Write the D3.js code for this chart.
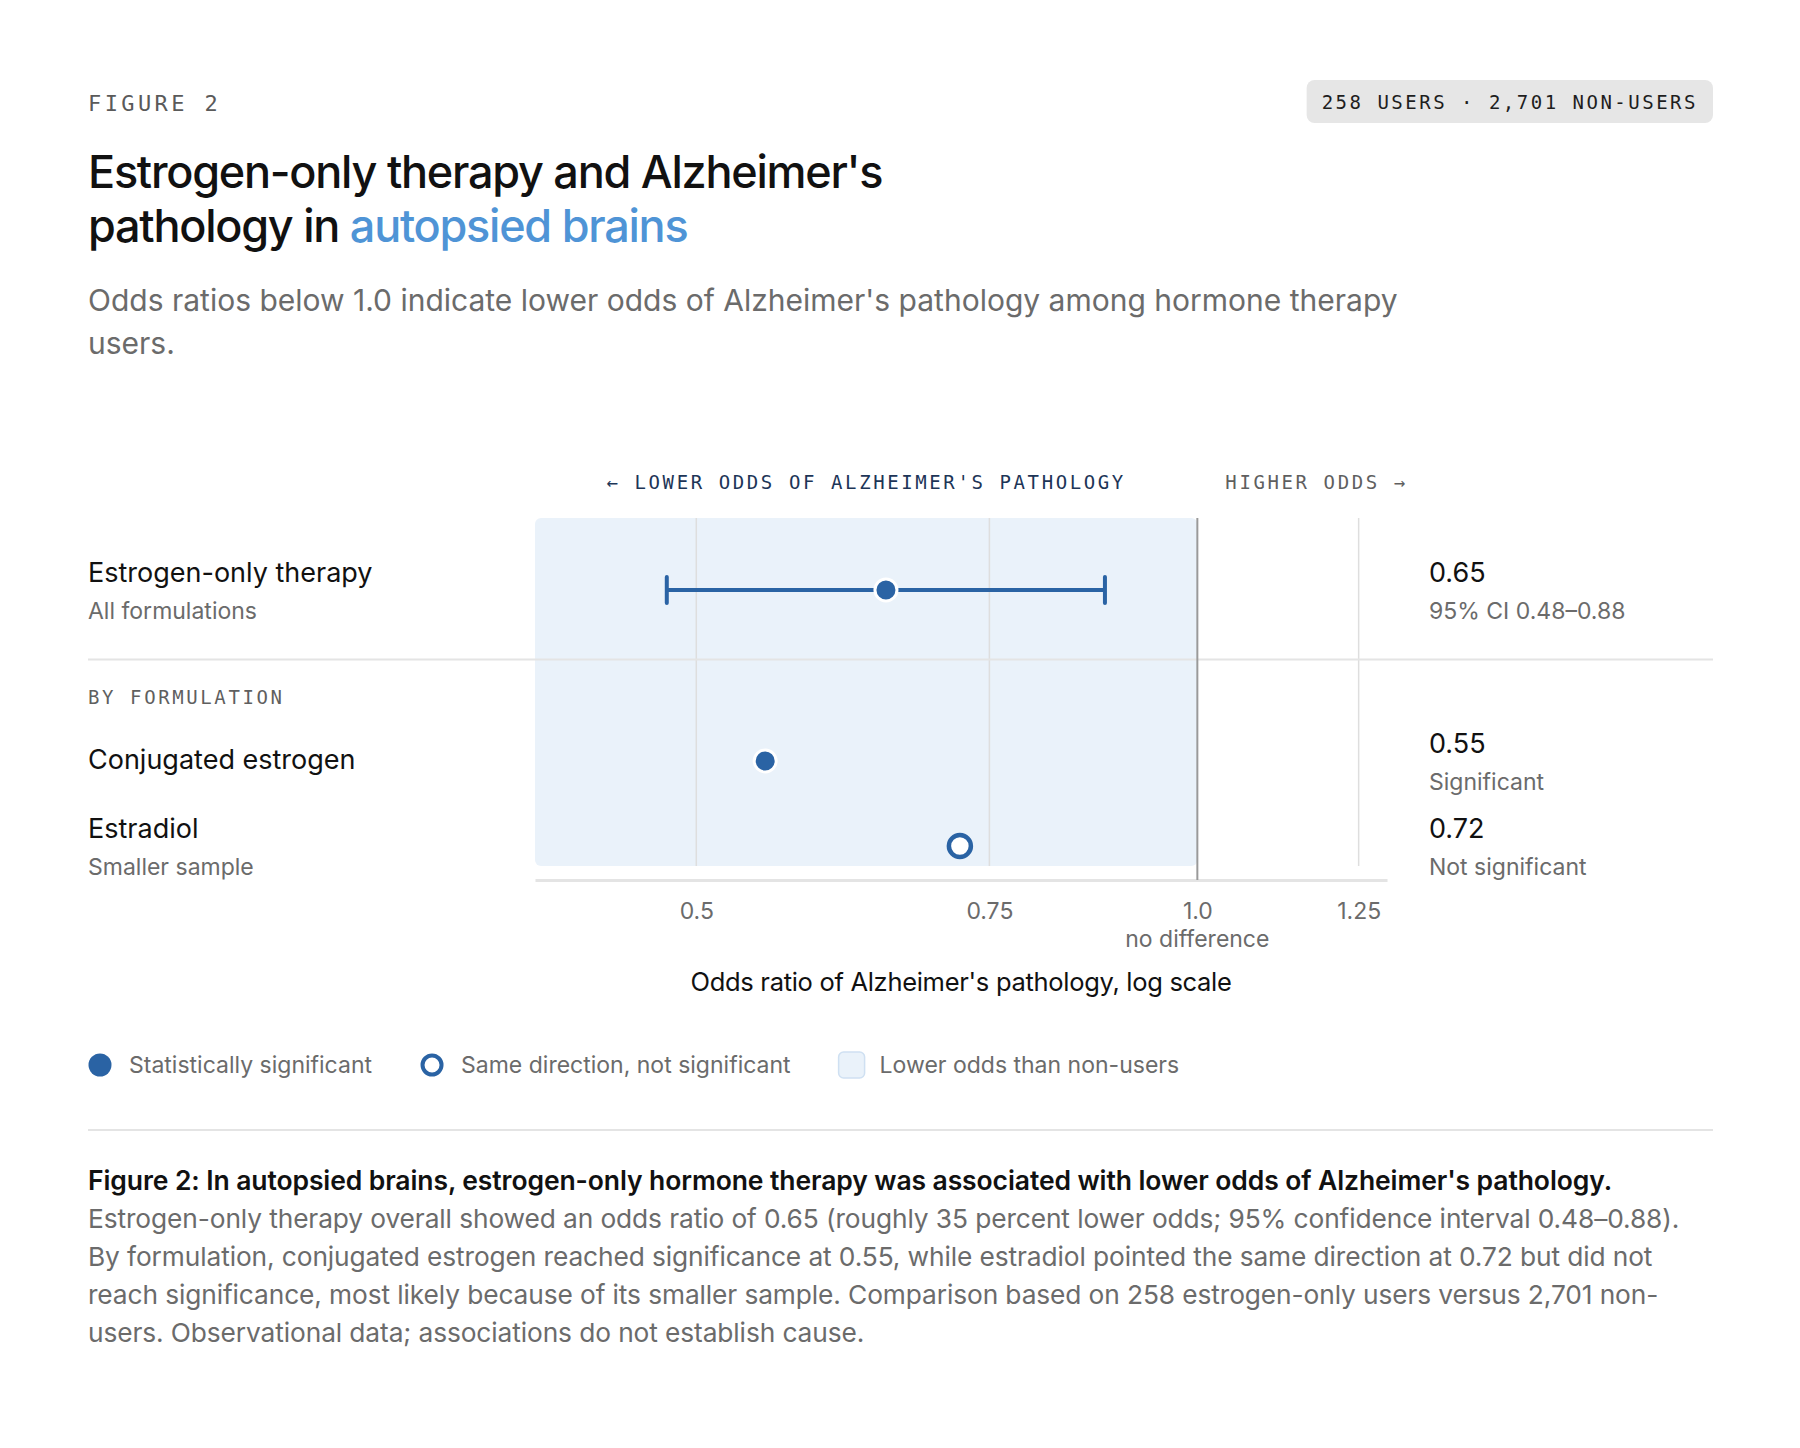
<!DOCTYPE html>
<html>
<head>
<meta charset="utf-8">
<script src="https://cdn.jsdelivr.net/npm/d3@7/dist/d3.min.js"></script>
<style>
  html, body { margin: 0; padding: 0; background: #fff; }
  svg { display: block; }
</style>
</head>
<body>
<div id="chart"></div>
<script>
// Forest plot: estrogen-only therapy and odds of Alzheimer's pathology

const rowLabels = ['Estrogen-only therapy', 'Conjugated estrogen', 'Estradiol'];
const rowSublabels = ['All formulations', '', 'Smaller sample'];
const oddsRatios = [0.65, 0.55, 0.72];
const ciLow = [0.48, null, null];
const ciHigh = [0.88, null, null];
const significant = [true, true, false];
const valueNotes = ['95% CI 0.48–0.88', 'Significant', 'Not significant'];

const xDomain = [0.4, 1.3];
const tickValues = [0.5, 0.75, 1.0, 1.25];
const tickLabels = ['0.5', '0.75', '1.0', '1.25'];

const legendLabels = ['Statistically significant', 'Same direction, not significant', 'Lower odds than non-users'];

const captionBold = "Figure 2: In autopsied brains, estrogen-only hormone therapy was associated with lower odds of Alzheimer's pathology.";
const captionLines = [
  'Estrogen-only therapy overall showed an odds ratio of 0.65 (roughly 35 percent lower odds; 95% confidence interval 0.48–0.88).',
  'By formulation, conjugated estrogen reached significance at 0.55, while estradiol pointed the same direction at 0.72 but did not',
  'reach significance, most likely because of its smaller sample. Comparison based on 258 estrogen-only users versus 2,701 non-',
  'users. Observational data; associations do not establish cause.'
];

const W = 1800, H = 1448;
const LEFT = 88, RIGHT = 1713;
const PLOT = { x0: 535, x1: 1387, top: 518, bottom: 866, axisY: 880 };
const ROW_Y = [590, 761, 846];
const VALUE_X = 1429;

const SANS = 'Inter, "Noto Sans", sans-serif';
const MONO = '"DejaVu Sans Mono", "Liberation Mono", monospace';
const BLUE = '#2a63a4';
const SHADE = '#eaf2fa';
const GREY_TEXT = '#6b6b6b';
const RULE = '#e4e4e4';

const svg = d3.select('#chart').append('svg')
  .attr('width', W)
  .attr('height', H);

// ---------- header ----------
svg.append('text')
  .attr('x', LEFT).attr('y', 111)
  .attr('font-family', MONO).attr('font-size', 22)
  .attr('letter-spacing', '3.4px')
  .attr('fill', '#5a5a5a')
  .text('FIGURE 2');

const badgeText = svg.append('text')
  .attr('y', 109)
  .attr('font-family', MONO).attr('font-size', 19)
  .attr('letter-spacing', '2.5px')
  .attr('fill', '#1e1e1e')
  .text('258 USERS · 2,701 NON-USERS');
const badgeW = badgeText.node().getComputedTextLength() + 30;
svg.insert('rect', 'text:last-of-type')
  .attr('x', RIGHT - badgeW).attr('y', 80)
  .attr('width', badgeW).attr('height', 43)
  .attr('rx', 8)
  .attr('fill', '#e6e6e6');
badgeText.attr('x', RIGHT - badgeW + 15);
badgeText.raise();

const title = svg.append('text')
  .attr('font-family', SANS).attr('font-size', 45)
  .attr('font-weight', 500)
  .attr('letter-spacing', '-1.25px')
  .attr('fill', '#111');
title.append('tspan').attr('x', LEFT).attr('y', 188).text("Estrogen-only therapy and Alzheimer's");
const t2 = title.append('tspan').attr('x', LEFT).attr('y', 242);
t2.append('tspan').text('pathology in ');
t2.append('tspan').attr('fill', '#4f94d6').text('autopsied brains');

const sub = svg.append('text')
  .attr('font-family', SANS).attr('font-size', 30)
  .attr('fill', GREY_TEXT);
sub.append('tspan').attr('x', LEFT).attr('y', 311)
  .text("Odds ratios below 1.0 indicate lower odds of Alzheimer's pathology among hormone therapy");
sub.append('tspan').attr('x', LEFT).attr('y', 354).text('users.');

// ---------- scale ----------
const x = d3.scaleLog().domain(xDomain).range([PLOT.x0, PLOT.x1]);

// direction labels
svg.append('text')
  .attr('x', (x(xDomain[0]) + x(1)) / 2).attr('y', 489)
  .attr('text-anchor', 'middle')
  .attr('font-family', MONO).attr('font-size', 19)
  .attr('letter-spacing', '2.6px')
  .attr('fill', '#1d3557')
  .text("← LOWER ODDS OF ALZHEIMER'S PATHOLOGY");
svg.append('text')
  .attr('x', x(1) + 28).attr('y', 489)
  .attr('font-family', MONO).attr('font-size', 19)
  .attr('letter-spacing', '2.6px')
  .attr('fill', '#5f5f5f')
  .text('HIGHER ODDS →');

// shaded "lower odds" region
svg.append('rect')
  .attr('x', x(xDomain[0])).attr('y', PLOT.top)
  .attr('width', x(1) - x(xDomain[0]))
  .attr('height', PLOT.bottom - PLOT.top)
  .attr('rx', 6)
  .attr('fill', SHADE);

// gridlines
svg.append('g').selectAll('line')
  .data(tickValues.filter(v => v !== 1))
  .join('line')
  .attr('x1', d => x(d)).attr('x2', d => x(d))
  .attr('y1', PLOT.top).attr('y2', PLOT.bottom)
  .attr('stroke', '#dedede').attr('stroke-width', 1.5);

// section rule
svg.append('line')
  .attr('x1', LEFT).attr('x2', RIGHT)
  .attr('y1', 659.5).attr('y2', 659.5)
  .attr('stroke', RULE).attr('stroke-width', 2);

// axis
const axis = d3.axisBottom(x)
  .tickValues(tickValues)
  .tickFormat((d, i) => tickLabels[i])
  .tickSize(0)
  .tickSizeOuter(0)
  .tickPadding(23);
const axisG = svg.append('g')
  .attr('transform', `translate(0, ${PLOT.axisY})`)
  .call(axis);
axisG.select('.domain').attr('stroke', RULE).attr('stroke-width', 3);
axisG.selectAll('.tick text')
  .attr('font-family', SANS).attr('font-size', 23)
  .attr('fill', GREY_TEXT);

// reference line at 1.0
svg.append('line')
  .attr('x1', x(1)).attr('x2', x(1))
  .attr('y1', PLOT.top).attr('y2', PLOT.axisY)
  .attr('stroke', '#9a9a9a').attr('stroke-width', 2);

svg.append('text')
  .attr('x', x(1)).attr('y', 947)
  .attr('text-anchor', 'middle')
  .attr('font-family', SANS).attr('font-size', 23)
  .attr('fill', GREY_TEXT)
  .text('no difference');

svg.append('text')
  .attr('x', (PLOT.x0 + PLOT.x1) / 2).attr('y', 991)
  .attr('text-anchor', 'middle')
  .attr('font-family', SANS).attr('font-size', 25.5)
  .attr('letter-spacing', '-0.3px')
  .attr('fill', '#111')
  .text("Odds ratio of Alzheimer's pathology, log scale");

// ---------- row labels ----------
svg.append('text')
  .attr('x', LEFT).attr('y', 704)
  .attr('font-family', MONO).attr('font-size', 19)
  .attr('letter-spacing', '2.6px')
  .attr('fill', '#5f5f5f')
  .text('BY FORMULATION');

rowLabels.forEach((label, i) => {
  const cy = ROW_Y[i];
  const hasSub = rowSublabels[i] !== '';
  svg.append('text')
    .attr('x', LEFT).attr('y', hasSub ? cy - 8 : cy + 8)
    .attr('font-family', SANS).attr('font-size', 27)
    .attr('fill', '#111')
    .text(label);
  if (hasSub) {
    svg.append('text')
      .attr('x', LEFT).attr('y', cy + 29)
      .attr('font-family', SANS).attr('font-size', 23)
      .attr('fill', GREY_TEXT)
      .text(rowSublabels[i]);
  }
  // value column
  svg.append('text')
    .attr('x', VALUE_X).attr('y', cy - 8)
    .attr('font-family', SANS).attr('font-size', 27)
    .attr('fill', '#111')
    .text(d3.format('.2f')(oddsRatios[i]));
  svg.append('text')
    .attr('x', VALUE_X).attr('y', cy + 29)
    .attr('font-family', SANS).attr('font-size', 23)
    .attr('fill', GREY_TEXT)
    .text(valueNotes[i]);
});

// ---------- marks ----------
const marks = svg.append('g');
oddsRatios.forEach((or, i) => {
  const cy = ROW_Y[i];
  if (ciLow[i] != null) {
    marks.append('line')
      .attr('x1', x(ciLow[i])).attr('x2', x(ciHigh[i]))
      .attr('y1', cy).attr('y2', cy)
      .attr('stroke', BLUE).attr('stroke-width', 4);
    [ciLow[i], ciHigh[i]].forEach(v => {
      marks.append('line')
        .attr('x1', x(v)).attr('x2', x(v))
        .attr('y1', cy - 13).attr('y2', cy + 13)
        .attr('stroke', BLUE).attr('stroke-width', 4)
        .attr('stroke-linecap', 'round');
    });
  }
  if (significant[i]) {
    marks.append('circle')
      .attr('cx', x(or)).attr('cy', cy).attr('r', 11)
      .attr('fill', BLUE)
      .attr('stroke', '#fff').attr('stroke-width', 3);
  } else {
    marks.append('circle')
      .attr('cx', x(or)).attr('cy', cy).attr('r', 11)
      .attr('fill', '#fff')
      .attr('stroke', BLUE).attr('stroke-width', 4.5);
  }
});

// ---------- legend ----------
const legend = svg.append('g').attr('transform', 'translate(0, 1065)');
let lx = LEFT;
legendLabels.forEach((label, i) => {
  if (i === 0) {
    legend.append('circle').attr('cx', lx + 12).attr('cy', 0).attr('r', 11.5).attr('fill', BLUE);
  } else if (i === 1) {
    legend.append('circle').attr('cx', lx + 12).attr('cy', 0).attr('r', 9.5)
      .attr('fill', '#fff').attr('stroke', BLUE).attr('stroke-width', 4);
  } else {
    legend.append('rect').attr('x', lx).attr('y', -13).attr('width', 26).attr('height', 26)
      .attr('rx', 5).attr('fill', SHADE).attr('stroke', '#cfe0f2').attr('stroke-width', 1.5);
  }
  const t = legend.append('text')
    .attr('x', lx + 41).attr('y', 8)
    .attr('font-family', SANS).attr('font-size', 23)
    .attr('fill', GREY_TEXT)
    .text(label);
  lx += 41 + t.node().getComputedTextLength() + 48;
});

svg.append('line')
  .attr('x1', LEFT).attr('x2', RIGHT)
  .attr('y1', 1130).attr('y2', 1130)
  .attr('stroke', RULE).attr('stroke-width', 2);

// ---------- caption ----------
svg.append('text')
  .attr('x', LEFT).attr('y', 1190)
  .attr('font-family', SANS).attr('font-size', 26.5)
  .attr('font-weight', 600)
  .attr('letter-spacing', '-0.1px')
  .attr('fill', '#111')
  .text(captionBold);

svg.append('text')
  .attr('font-family', SANS).attr('font-size', 26.3)
  .attr('letter-spacing', '-0.1px')
  .attr('fill', GREY_TEXT)
  .selectAll('tspan')
  .data(captionLines)
  .join('tspan')
  .attr('x', LEFT)
  .attr('y', (d, i) => 1228 + i * 38)
  .text(d => d);
</script>
</body>
</html>
